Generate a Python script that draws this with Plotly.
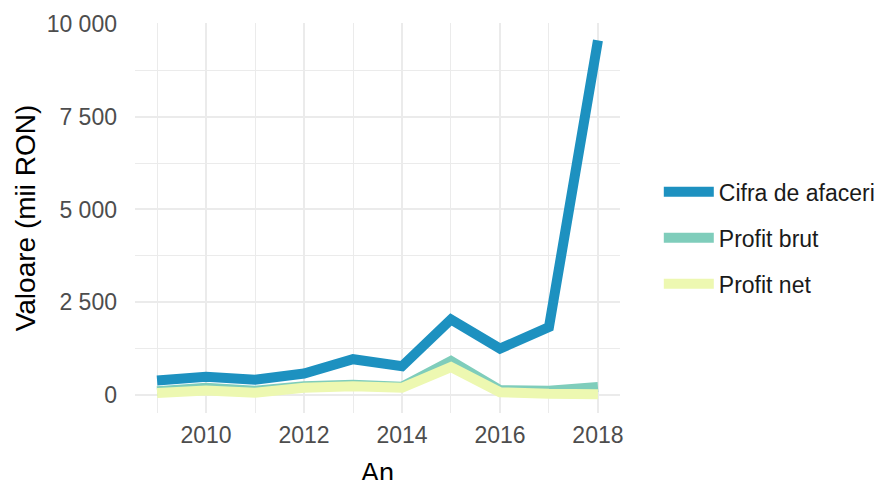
import plotly.graph_objects as go

years = [2009, 2010, 2011, 2012, 2013, 2014, 2015, 2016, 2017, 2018]
cifra_afaceri = [400, 500, 420, 585, 970, 780, 2040, 1255, 1835, 9550]
profit_brut = [110, 200, 120, 240, 280, 230, 920, 140, 120, 220]
profit_net = [60, 130, 70, 200, 240, 200, 760, 80, 40, 30]

series_names = ["Cifra de afaceri", "Profit brut", "Profit net"]
series_values = [cifra_afaceri, profit_brut, profit_net]
series_colors = ["#1d91c0", "#7fcdbb", "#edf8b1"]

y_tick_vals = [0, 2500, 5000, 7500, 10000]
y_tick_text = ["0", "2 500", "5 000", "7 500", "10 000"]
x_tick_vals = [2010, 2012, 2014, 2016, 2018]
x_tick_text = ["2010", "2012", "2014", "2016", "2018"]

FONT = "Liberation Sans, Arial, sans-serif"
GRID = "#ebebeb"

fig = go.Figure()
for name, vals, col in zip(series_names, series_values, series_colors):
    fig.add_trace(go.Scatter(
        x=years, y=vals, mode="lines", name=name,
        legendgroup=name,
        line=dict(color=col, width=10),
    ))

# page body has an 8px margin, so the figure is offset to compensate
fig.update_layout(
    width=884, height=480,
    margin=dict(l=127, r=270, t=15, b=75),
    paper_bgcolor="white", plot_bgcolor="white",
    font=dict(family=FONT, color="#4d4d4d"),
    showlegend=True,
    legend=dict(
        x=1.08, xanchor="left", y=0.449, yanchor="middle",
        font=dict(size=23, color="#1a1a1a", family=FONT),
        tracegroupgap=13, itemwidth=50,
        bgcolor="rgba(0,0,0,0)",
    ),
    xaxis=dict(
        range=[2008.55, 2018.45],
        tickvals=x_tick_vals, ticktext=x_tick_text,
        showgrid=True, gridcolor=GRID, gridwidth=1.5,
        minor=dict(dtick=1, tick0=2009, showgrid=True, gridcolor=GRID, gridwidth=1),
        zeroline=False, showline=False, ticks="",
        tickfont=dict(size=23, color="#4d4d4d", family=FONT),
        ticklabelstandoff=6, automargin=False,
        title=dict(text="An", font=dict(size=27, color="#000000", family=FONT), standoff=38),
    ),
    yaxis=dict(
        range=[-477, 10017],
        tickvals=y_tick_vals, ticktext=y_tick_text,
        showgrid=True, gridcolor=GRID, gridwidth=1.5,
        minor=dict(tickvals=[1250, 3750, 6250, 8750], showgrid=True, gridcolor=GRID, gridwidth=1),
        zeroline=False, showline=False, ticks="",
        tickfont=dict(size=23, color="#4d4d4d", family=FONT),
        ticklabelstandoff=17, automargin=False,
        title=dict(text="Valoare (mii RON)", font=dict(size=28, color="#000000", family=FONT), standoff=2),
    ),
)

fig.write_html("out.html")
